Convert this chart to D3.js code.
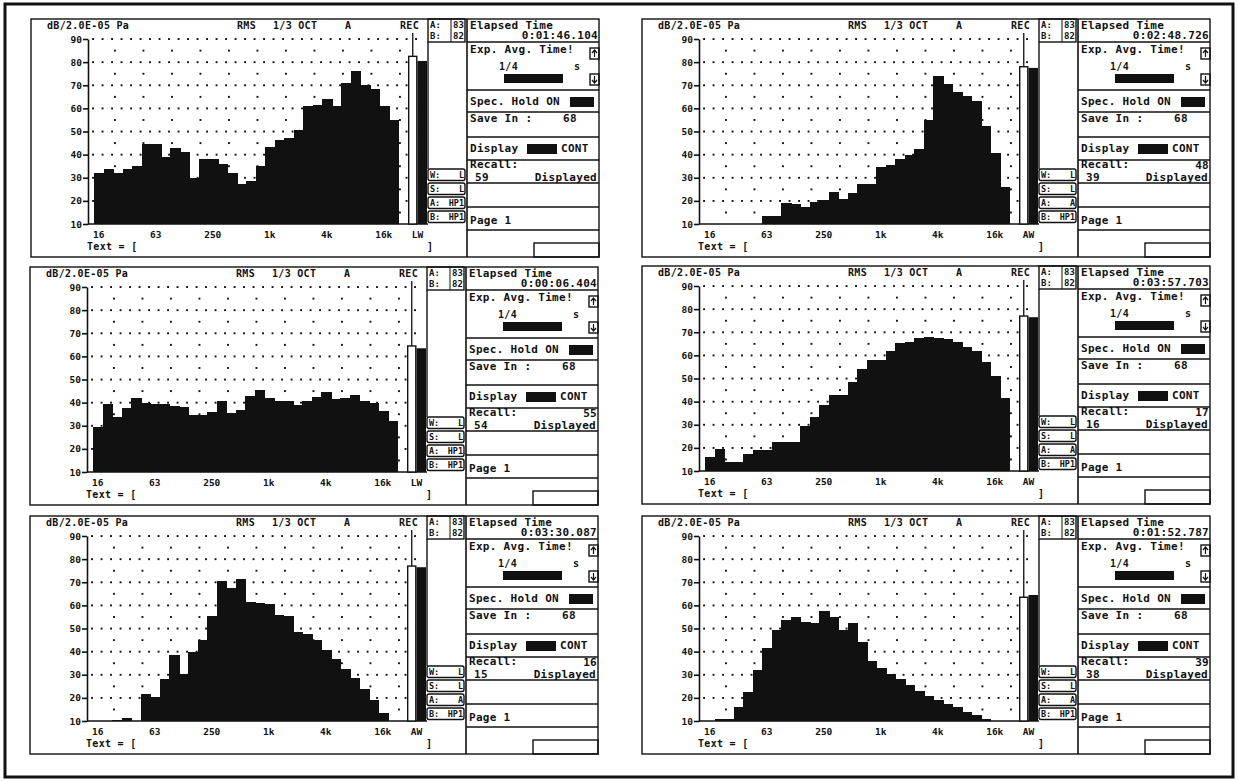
<!DOCTYPE html>
<html>
<head>
<meta charset="utf-8">
<script src="https://cdn.jsdelivr.net/npm/d3@7"></script>
<style>
  body { margin: 0; background: #fff; }
  svg text { font-family: "DejaVu Sans Mono", "Liberation Mono", monospace; font-weight: bold; fill: #111; }
</style>
</head>
<body>
<div id="container"></div>
<script>
// 1/3 octave bands, 16 Hz - 20 kHz
var bands = ["16","20","25","31.5","40","50","63","80","100","125","160","200","250","315","400","500",
             "630","800","1k","1.25k","1.6k","2k","2.5k","3.15k","4k","5k","6.3k","8k","10k","12.5k","16k","20k"];
var tickBands = ["16","63","250","1k","4k","16k"];
var levelTicks = [10, 20, 30, 40, 50, 60, 70, 80, 90];

// Band levels in dB, one array per screen
var spectrum1 = [32,34,32,34,35,44.5,44.5,39,43,41,30,38,38,36,32,27.5,28.5,35,43.5,46.5,47,50.5,61,61.5,64,61,71,76,70,68.5,61,55];
var spectrum2 = [10,10,10,10,10,10,13.5,13.5,19,18.5,17.5,19.5,20.5,24,21,23.5,27.5,27.5,34.5,35.5,38,40,42.5,55,74,70.5,67,65.5,63,52.5,40.5,26];
var spectrum3 = [29.5,39.5,34,37.5,42,40,39.5,39.5,38.5,38,34.5,34.5,36,40.5,35.5,37,43,45.5,42,40.5,40.5,39,40.5,42.5,44.5,41.5,42,43.5,40.5,40,36.5,32];
var spectrum4 = [16,19.5,14,14,17.5,19,19,22.5,22.5,22.5,29.5,33.5,38.5,43,43,48.5,54,58,58,62,65.5,66,67.5,68,67.5,67,66,63.5,62,57,51,41.5];
var spectrum5 = [10,10,10.5,11.5,10,21.5,20.5,28,38.5,30.5,40,45,55.5,70.5,67.5,71.5,61.5,61,60.5,56,55.5,48.5,47.5,45,40.5,37,32.5,28.5,24,19,13.5,10];
var spectrum6 = [10,11,11,16,22.5,32,41.5,49.5,53.5,55,53,52.5,57.5,55,49.5,52.5,44,36,33,30.5,28,25.5,23,21,19,17.5,16,14,12.5,11,10,10];

// Overall level bars next to the spectrum (max hold, current)
var recMax = [82.5, 78, 64.5, 77, 77, 63.5];
var recNow = [80.5, 77.5, 63.5, 76.5, 76.5, 64.5];
var weighting = ["LW", "AW", "LW", "AW", "AW", "AW"];
var filterA = ["HP1", "A", "HP1", "A", "A", "A"];
var elapsed = ["0:01:46.104", "0:02:48.726", "0:00:06.404", "0:03:57.703", "0:03:30.087", "0:01:52.787"];
var recallLast = ["", "48", "55", "17", "16", "39"];
var recallShown = ["59", "39", "54", "16", "15", "38"];

var spectra = [spectrum1, spectrum2, spectrum3, spectrum4, spectrum5, spectrum6];

// Screen positions on the page
var panels = [{x: 31, y: 19}, {x: 642, y: 19},
              {x: 30, y: 267}, {x: 642, y: 266},
              {x: 30, y: 516}, {x: 642, y: 516}];

var width = 1238,
    height = 781;

var svg = d3.select("#container")
            .append("svg")
              .attr("width", width)
              .attr("height", height);

// Outer frame
svg.append("rect")
    .attr("x", 5).attr("y", 4)
    .attr("width", 1228).attr("height", 773)
    .attr("fill", "none")
    .attr("stroke", "#111")
    .attr("stroke-width", 3);

// Scales shared by all screens (panel-relative)
var x = d3.scaleBand()
          .domain(bands)
          .range([63, 367]);
var y = d3.scaleLinear()
          .domain([10, 90])
          .range([205, 20]);
var recX = d3.scaleBand()
             .domain(["max", "now"])
             .range([377, 396]);

var ink = "#111";

panels.forEach(function(p, i) {
  drawPanel(p, i);
});

function label(g, txt, px, py, size, anchor) {
  return g.append("text")
    .attr("x", px).attr("y", py)
    .attr("text-anchor", anchor || "start")
    .style("font-size", size + "px")
    .style("letter-spacing", size >= 10 ? "0.3px" : "0px")
    .text(txt);
}

function box(g, bx, by, bw, bh, fill) {
  return g.append("rect")
    .attr("x", bx).attr("y", by)
    .attr("width", bw).attr("height", bh)
    .attr("fill", fill || "none")
    .attr("stroke", ink)
    .attr("stroke-width", 1.4);
}

function hline(g, x1, x2, yy) {
  g.append("line")
    .attr("x1", x1).attr("x2", x2)
    .attr("y1", yy).attr("y2", yy)
    .attr("stroke", ink).attr("stroke-width", 1.4);
}

function drawPanel(p, i) {
  var g = svg.append("g")
             .attr("transform", "translate(" + p.x + "," + p.y + ")");
  var data = spectra[i];

  // Panel outline and split between plot and info area
  box(g, 0, 0, 568, 238);
  g.append("line")
    .attr("x1", 436).attr("x2", 436)
    .attr("y1", 0).attr("y2", 238)
    .attr("stroke", ink).attr("stroke-width", 1.6);

  // Dotted grid: a dot per band on 10 dB lines, one per octave on 5 dB lines
  var step = x.step();
  var x0 = x(bands[0]);
  var major = [20, 30, 40, 50, 60, 70, 80, 90];
  var minor = [15, 25, 35, 45, 55, 65, 75, 85];
  var dots = [];
  major.forEach(function(l) {
    d3.range(0, 35).forEach(function(k) { dots.push([x0 - 1 + k * step, y(l)]); });
  });
  minor.forEach(function(l) {
    d3.range(0, 11).forEach(function(k) { dots.push([x0 + (2.2 + 3 * k) * step, y(l)]); });
  });
  g.append("g")
    .selectAll("rect")
    .data(dots)
    .enter()
    .append("rect")
      .attr("x", function(d) { return d[0] - 0.9; })
      .attr("y", function(d) { return d[1] - 0.9; })
      .attr("width", 1.9)
      .attr("height", 1.9)
      .attr("fill", ink);

  // Spectrum bars (one solid staircase, no seams)
  g.append("g")
    .attr("shape-rendering", "crispEdges")
    .selectAll("rect")
    .data(data)
    .enter()
    .append("rect")
      .attr("x", function(d, j) { return x(bands[j]); })
      .attr("y", function(d) { return y(d); })
      .attr("width", x.bandwidth() + 1)
      .attr("height", function(d) { return y(10) - y(d); })
      .attr("fill", ink);

  // Y axis
  var yAxis = g.append("g")
    .attr("transform", "translate(57,0)")
    .call(d3.axisLeft(y).tickValues(levelTicks).tickSize(5).tickSizeOuter(0).tickPadding(1));
  yAxis.select(".domain").attr("stroke", ink).attr("stroke-width", 1.6);
  yAxis.selectAll(".tick line").attr("stroke", ink).attr("stroke-width", 1.6);
  yAxis.selectAll(".tick text")
    .style("font-size", "9.5px")
    .style("font-family", "'DejaVu Sans Mono', monospace")
    .style("font-weight", "bold")
    .attr("fill", ink);

  // Baseline
  hline(g, 57, 397, y(10));

  // X axis labels
  var xAxis = g.append("g")
    .attr("transform", "translate(0,210)")
    .call(d3.axisBottom(x).tickValues(tickBands).tickSize(0).tickPadding(2.5));
  xAxis.select(".domain").remove();
  xAxis.selectAll(".tick text")
    .style("font-size", "9.5px")
    .style("font-family", "'DejaVu Sans Mono', monospace")
    .style("font-weight", "bold")
    .attr("fill", ink);

  // Overall level: max hold (outline) and current (solid)
  g.append("line")
    .attr("x1", recX("max") + recX.bandwidth() / 2)
    .attr("x2", recX("max") + recX.bandwidth() / 2)
    .attr("y1", 14).attr("y2", y(recMax[i]))
    .attr("stroke", ink).attr("stroke-width", 1.3);
  g.append("rect")
    .attr("x", recX("max") + 0.7)
    .attr("y", y(recMax[i]))
    .attr("width", recX.bandwidth() - 1.4)
    .attr("height", y(10) - y(recMax[i]))
    .attr("fill", "#fff")
    .attr("stroke", ink)
    .attr("stroke-width", 1.4);
  g.append("rect")
    .attr("x", recX("now"))
    .attr("y", y(recNow[i]))
    .attr("width", recX.bandwidth())
    .attr("height", y(10) - y(recNow[i]))
    .attr("fill", ink);
  label(g, weighting[i], recX("now"), 219, 9.5, "middle");

  // Header texts
  label(g, "dB/2.0E-05 Pa", 16, 10, 10);
  label(g, "RMS", 206, 10, 10);
  label(g, "1/3 OCT", 242, 10, 10);
  label(g, "A", 314, 10, 10);
  label(g, "REC", 369, 10, 10);
  label(g, "Text = [", 56, 231, 10);
  label(g, "]", 396, 231, 10);

  // A/B level box and detector boxes
  box(g, 397, 0, 37, 23);
  g.append("line").attr("x1", 420).attr("x2", 420).attr("y1", 0).attr("y2", 23)
    .attr("stroke", ink).attr("stroke-width", 1);
  label(g, "A:", 399, 9, 9);
  label(g, "83", 422, 9, 9);
  label(g, "B:", 399, 20, 9);
  label(g, "82", 422, 20, 9);
  g.append("line").attr("x1", 397).attr("x2", 397).attr("y1", 23).attr("y2", 150)
    .attr("stroke", ink).attr("stroke-width", 1.4);

  var det = [["W:", "L", 150], ["S:", "L", 164], ["A:", filterA[i], 178], ["B:", "HP1", 192]];
  det.forEach(function(d) {
    g.append("rect")
      .attr("x", 397).attr("y", d[2])
      .attr("width", 37).attr("height", 11.5)
      .attr("rx", 2)
      .attr("fill", "#fff")
      .attr("stroke", ink).attr("stroke-width", 1.4);
    label(g, d[0], 399, d[2] + 9, 8.5);
    label(g, d[1], 433, d[2] + 9, 8.5, "end");
  });

  // Info area
  var ix = 436;
  [23, 71, 93, 118, 141, 164, 188, 211].forEach(function(l) { hline(g, ix, 568, l); });

  label(g, "Elapsed Time", ix + 3, 9.5, 11);
  label(g, elapsed[i], ix + 131, 19.5, 11, "end");

  label(g, "Exp. Avg. Time!", ix + 3, 34, 11);
  box(g, ix + 123, 29, 9, 11);
  box(g, ix + 123, 55, 9, 11);
  g.append("path")
    .attr("d", "M" + (ix + 127.5) + ",38V31M" + (ix + 125) + ",34L" + (ix + 127.5) + ",31L" + (ix + 130) + ",34" +
               "M" + (ix + 127.5) + ",57V64M" + (ix + 125) + ",61L" + (ix + 127.5) + ",64L" + (ix + 130) + ",61")
    .attr("fill", "none").attr("stroke", ink).attr("stroke-width", 1.2);
  label(g, "1/4", ix + 32, 51, 10);
  label(g, "s", ix + 107, 51, 10);
  g.append("rect").attr("x", ix + 37).attr("y", 55).attr("width", 59).attr("height", 9).attr("fill", ink);

  label(g, "Spec. Hold ON", ix + 3, 86, 11);
  g.append("rect").attr("x", ix + 103).attr("y", 78).attr("width", 24).attr("height", 10).attr("fill", ink);

  label(g, "Save In :", ix + 3, 103, 11);
  label(g, "68", ix + 96, 103, 11);

  label(g, "Display", ix + 3, 133, 11);
  g.append("rect").attr("x", ix + 60).attr("y", 125).attr("width", 30).attr("height", 10).attr("fill", ink);
  label(g, "CONT", ix + 94, 133, 11);

  label(g, "Recall:", ix + 3, 149, 11);
  label(g, recallLast[i], ix + 131, 150, 11, "end");
  label(g, recallShown[i], ix + 8, 161.5, 11);
  label(g, "Displayed", ix + 130, 161.5, 11, "end");

  label(g, "Page 1", ix + 3, 205, 11);
  box(g, ix + 67, 224, 65, 14);
}
</script>
</body>
</html>
